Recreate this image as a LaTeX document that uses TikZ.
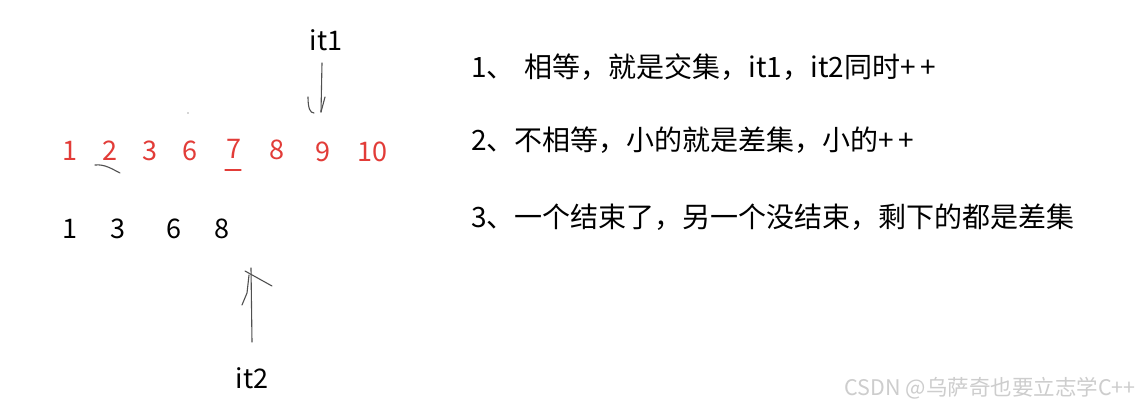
\documentclass[tikz,border=0pt]{standalone}
\usepackage{fontspec}
\setmainfont{Noto Sans CJK SC}
\begin{document}
\begin{tikzpicture}[x=1pt,y=-1pt,
  rednum/.style={text=numred,font=\fontsize{27}{32}\selectfont,inner sep=0pt,anchor=center},
  blknum/.style={text=black,font=\fontsize{27}{32}\selectfont,inner sep=0pt,anchor=center},
  itlabel/.style={text=black,font=\fontsize{27}{32}\selectfont,inner sep=0pt,anchor=center},
  rule/.style={text=black,font=\fontsize{28}{34}\selectfont,inner sep=0pt,anchor=west},
  pen/.style={draw=pencol,line width=1.1pt,line cap=round,line join=round},
  redmark/.style={draw=numred,line width=1.2pt,line cap=round}]
\definecolor{numred}{RGB}{226,60,56}
\definecolor{pencol}{RGB}{80,80,80}
\definecolor{wm}{RGB}{205,205,205}
\fill[white] (0,0) rectangle (1140,408);
\useasboundingbox (0,0) rectangle (1140,408);
% red sequence
\node[rednum] (r1) at (70,151) {1};
\node[rednum] (r2) at (110,151) {2};
\node[rednum] (r3) at (150,151) {3};
\node[rednum] (r6) at (190,151) {6};
\node[rednum] (r7) at (234,149) {7};
\node[rednum] (r8) at (277,150) {8};
\node[rednum] (r9) at (323,152) {9};
\node[rednum] (r10) at (372,152) {10};
% black sequence
\node[blknum] (b1) at (70,229) {1};
\node[blknum] (b3) at (118,229) {3};
\node[blknum] (b6) at (174,229) {6};
\node[blknum] (b8) at (222,229) {8};
% labels
\node[itlabel] (it1) at (326,40) {it1};
\node[itlabel] (it2) at (252,378) {it2};
% it1 arrow (hand drawn)
\coordinate (a1) at (321,112);
\coordinate (s1) at (322,63);
\draw[pen] (s1) -- (a1);
\draw[pen] (325,97) -- (a1);
\draw[pen] (308,97) .. controls (308,108) and (310,113) .. (314,113);
% it2 arrow (hand drawn)
\coordinate (a2) at (251,268);
\coordinate (s2) at (252,342);
\draw[pen] (s2) -- (a2);
\draw[pen] (245,271) -- (272,286);
\draw[pen] (249,275) -- (247,293) -- (242,305);
% hand marks
\draw[pen] (95,165) .. controls (105,164) and (112,169) .. (120,173);
\draw[redmark] (225,170) -- (241,170);
\fill[pencol] (188,113) circle (0.7);
% rules
\node[rule] (t1) at (471,67) {1、\hspace{10pt}相等，就是交集，it1，it2同时+\,+};
\node[rule] (t2) at (471,140) {2、不相等，小的就是差集，小的+\,+};
\node[rule] (t3) at (471,217) {3、一个结束了，另一个没结束，剩下的都是差集};
% watermark
\node[text=wm,font=\fontsize{21.5}{25}\selectfont,inner sep=0pt,anchor=east] (w) at (1136,388) {CSDN @乌萨奇也要立志学C++};
\end{tikzpicture}
\end{document}
